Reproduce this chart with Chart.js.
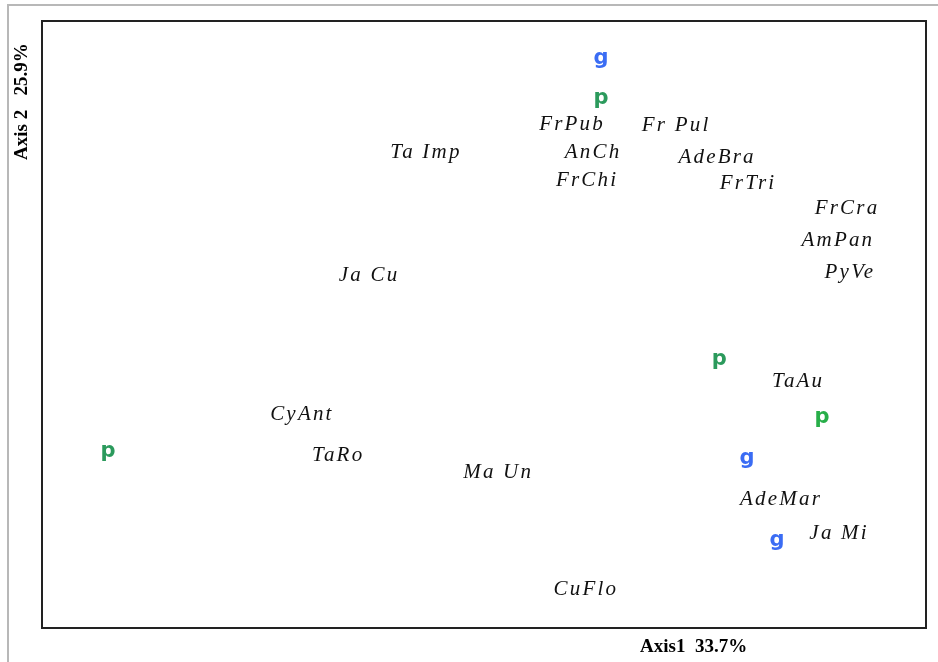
<!DOCTYPE html>
<html>
<head>
<meta charset="utf-8">
<script src="https://cdn.jsdelivr.net/npm/chart.js@4/dist/chart.umd.min.js"></script>
<style>
html,body{margin:0;padding:0;background:#fff;}
#wrap{position:relative;width:938px;height:662px;}
#frame{position:absolute;left:7px;top:4px;right:0;bottom:0;border-top:2px solid #b8b8b8;border-left:2px solid #b8b8b8;pointer-events:none;}
canvas{position:absolute;left:0;top:0;}
</style>
</head>
<body>
<div id="wrap">
<canvas id="c" width="938" height="662"></canvas>
<div id="frame"></div>
</div>
<script>
// Species labels and their ordination scores (Axis 1, Axis 2)
const speciesLabels = ["FrPub","Fr Pul","Ta Imp","AnCh","AdeBra","FrChi","FrTri","FrCra","AmPan","PyVe","Ja Cu","TaAu","CyAnt","TaRo","Ma Un","AdeMar","Ja Mi","CuFlo"];
const speciesAxis1 = [0.299,0.652,-0.197,0.370,0.791,0.350,0.896,1.232,1.201,1.242,-0.390,1.066,-0.618,-0.495,0.048,1.008,1.205,0.346];
const speciesAxis2 = [0.658,0.657,0.567,0.568,0.551,0.473,0.463,0.381,0.278,0.170,0.160,-0.189,-0.295,-0.430,-0.486,-0.578,-0.690,-0.874];

// Group markers "g"
const gLabels = ["g","g","g"];
const gAxis1 = [0.397,0.893,0.994];
const gAxis2 = [0.875,-0.443,-0.713];

// Group markers "p" (dark green)
const pLabels = ["p","p","p"];
const pAxis1 = [0.397,0.798,-1.276];
const pAxis2 = [0.746,-0.114,-0.420];

// Group marker "p" (light green)
const p2Labels = ["p"];
const p2Axis1 = [1.147];
const p2Axis2 = [-0.308];

const axisTitleX = "Axis1  33.7%";
const axisTitleY = "Axis 2   25.9%";

function pts(xs, ys){ return xs.map((x,i)=>({x:x,y:ys[i]})); }

const labelPlugin = {
  id:'labelPlugin',
  afterDatasetsDraw(chart){
    const ctx = chart.ctx;
    chart.data.datasets.forEach((ds,di)=>{
      const meta = chart.getDatasetMeta(di);
      ctx.save();
      ctx.font = ds.textFont;
      ctx.fillStyle = ds.textColor;
      ctx.letterSpacing = ds.textSpacing || '0px';
      ctx.textAlign = 'center';
      ctx.textBaseline = 'middle';
      meta.data.forEach((el,i)=>{
        ctx.fillText(ds.labels[i], el.x, el.y);
      });
      ctx.restore();
    });
    // plot frame
    const a = chart.chartArea;
    ctx.save();
    ctx.strokeStyle = '#222';
    ctx.lineWidth = 2;
    ctx.strokeRect(a.left, a.top, a.right - a.left, a.bottom - a.top);
    // axis titles
    ctx.fillStyle = '#000';
    ctx.font = 'bold 19px "Liberation Serif", serif';
    ctx.textAlign = 'left';
    ctx.textBaseline = 'middle';
    ctx.fillText(axisTitleX, 640, 647);
    ctx.translate(22, 160);
    ctx.rotate(-Math.PI/2);
    ctx.fillText(axisTitleY, 0, 0);
    ctx.restore();
  }
};

const speciesFont = 'italic 21px "Liberation Serif", serif';
const markFont = 'bold 21px "DejaVu Sans", sans-serif';

new Chart(document.getElementById('c'), {
  type:'scatter',
  data:{
    datasets:[
      {label:'species', labels:speciesLabels, data:pts(speciesAxis1,speciesAxis2), textFont:speciesFont, textColor:'#111', textSpacing:'2.2px', pointRadius:0},
      {label:'g', labels:gLabels, data:pts(gAxis1,gAxis2), textFont:markFont, textColor:'#3a6cf4', pointRadius:0},
      {label:'p', labels:pLabels, data:pts(pAxis1,pAxis2), textFont:markFont, textColor:'#2b9a5c', pointRadius:0},
      {label:'p2', labels:p2Labels, data:pts(p2Axis1,p2Axis2), textFont:markFont, textColor:'#27ae48', pointRadius:0}
    ]
  },
  options:{
    responsive:false,
    animation:false,
    layout:{padding:{left:42,top:21,right:12,bottom:34}},
    plugins:{legend:{display:false},tooltip:{enabled:false}},
    scales:{
      x:{type:'linear',min:-1.5,max:1.5,display:false},
      y:{type:'linear',min:-1,max:1,display:false}
    }
  },
  plugins:[labelPlugin]
});
</script>
</body>
</html>
